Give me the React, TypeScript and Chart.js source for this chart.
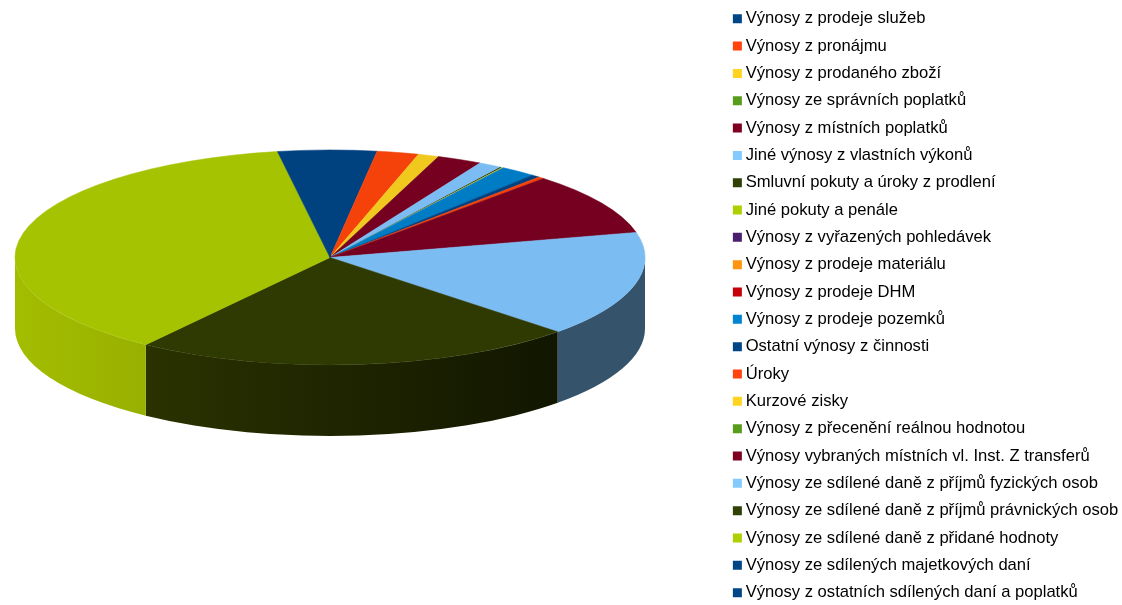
import React, { useEffect, useRef } from "react";
import { Chart, registerables } from "chart.js";

Chart.register(...registerables);

const categories = [
  "Výnosy z prodeje služeb",
  "Výnosy z pronájmu",
  "Výnosy z prodaného zboží",
  "Výnosy ze správních poplatků",
  "Výnosy z místních poplatků",
  "Jiné výnosy z vlastních výkonů",
  "Smluvní pokuty a úroky z prodlení",
  "Jiné pokuty a penále",
  "Výnosy z vyřazených pohledávek",
  "Výnosy z prodeje materiálu",
  "Výnosy z prodeje DHM",
  "Výnosy z prodeje pozemků",
  "Ostatní výnosy z činnosti",
  "Úroky",
  "Kurzové zisky",
  "Výnosy z přecenění reálnou hodnotou",
  "Výnosy vybraných místních vl. Inst. Z transferů",
  "Výnosy ze sdílené daně z příjmů fyzických osob",
  "Výnosy ze sdílené daně z příjmů právnických osob",
  "Výnosy ze sdílené daně z přidané hodnoty",
  "Výnosy ze sdílených majetkových daní",
  "Výnosy z ostatních sdílených daní a poplatků",
];

const values = [
  2.39, 2.14, 1.06, 0.01, 2.3, 1.19, 0.09, 0.08, 0, 0.01, 0.01, 1.83, 0.44, 0.31, 0, 0, 9.39, 15.9, 22.8, 37.4, 2.66,
  0.01,
];

const faceColors = [
  "#004180", "#f5420a", "#f0c81e", "#539418", "#760020", "#7bbcf2", "#2f3a03", "#a5c300", "#471d68", "#f08c0d", "#b9000a", "#007cc5",
  "#004180", "#f5420a", "#f0c81e", "#539418", "#760020", "#7bbcf2", "#2f3a03", "#a5c300", "#004180", "#004180",
];

const legendColors = [
  "#004586", "#ff420e", "#ffd320", "#579d1c", "#7e0021", "#83caff", "#314004", "#aecf00", "#4b1f6f", "#ff950e", "#c5000b", "#0084d1",
  "#004586", "#ff420e", "#ffd320", "#579d1c", "#7e0021", "#83caff", "#314004", "#aecf00", "#004586", "#004586",
];

// left / right shade of the visible rim of each front slice
const rimLeft: Record<number, string> = { 17: "#35546c", 18: "#2b3200", 19: "#a3bd00" };
const rimRight: Record<number, string> = { 17: "#35546c", 18: "#111600", 19: "#98b000" };

const CX = 330;
const CY = 257.5;
const RX = 315;
const RY = 107.5;
const DEPTH = 71;

const tiltPlugin = {
  id: "tilt",
  beforeDatasetsDraw(chart: any) {
    const ctx = chart.ctx;
    const arcs = chart.getDatasetMeta(0).data;
    arcs.forEach((arc: any, i: number) => {
      const a = Math.max(arc.startAngle, 0);
      const b = Math.min(arc.endAngle, Math.PI);
      if (b <= a) return;
      const g = ctx.createLinearGradient(CX + RX * Math.cos(b), 0, CX + RX * Math.cos(a), 0);
      g.addColorStop(0, rimLeft[i] ?? faceColors[i]);
      g.addColorStop(1, rimRight[i] ?? faceColors[i]);
      ctx.beginPath();
      ctx.ellipse(CX, CY, RX, RY, 0, a, b);
      ctx.ellipse(CX, CY + DEPTH, RX, RY, 0, b, a, true);
      ctx.closePath();
      ctx.fillStyle = g;
      ctx.fill();
    });
    const first = arcs[0];
    ctx.save();
    ctx.translate(CX, CY);
    ctx.scale(RX / first.outerRadius, RY / first.outerRadius);
    ctx.translate(-first.x, -first.y);
  },
  afterDatasetsDraw(chart: any) {
    chart.ctx.restore();
  },
};

export default function App() {
  const ref = useRef<HTMLCanvasElement>(null);
  useEffect(() => {
    const chart = new Chart(ref.current!, {
      type: "pie",
      data: {
        labels: categories,
        datasets: [
          {
            data: values,
            backgroundColor: faceColors,
            borderColor: faceColors,
            borderWidth: (c: any) => (c.dataIndex === 21 ? 2 : c.parsed >= 0.3 ? 0.8 : 0),
            clip: false,
          } as any,
        ],
      },
      options: {
        animation: false,
        responsive: false,
        layout: { padding: { top: -0.3, right: -6.3, left: 0, bottom: 0 } },
        plugins: {
          tooltip: { enabled: false },
          legend: {
            position: "right",
            align: "start",
            labels: {
              font: { family: "'Liberation Sans', Arial, sans-serif", size: 16.6 },
              color: "#1a1a1a",
              usePointStyle: true,
              boxWidth: 0.01,
              boxHeight: 9,
              padding: 10.73,
              generateLabels: (c: any) =>
                c.data.labels.map((text: string, i: number) => ({
                  text,
                  index: i,
                  fillStyle: legendColors[i],
                  strokeStyle: legendColors[i],
                  lineWidth: 0,
                  pointStyle: "rect",
                  hidden: false,
                })),
            },
          },
        },
      },
      plugins: [tiltPlugin],
    } as any);
    return () => chart.destroy();
  }, []);
  return (
    <div style={{ position: "absolute", left: 0, top: 0, width: 1122, height: 605, overflow: "hidden", background: "#fff" }}>
      <canvas ref={ref} width={1122} height={640} style={{ display: "block" }} />
    </div>
  );
}
